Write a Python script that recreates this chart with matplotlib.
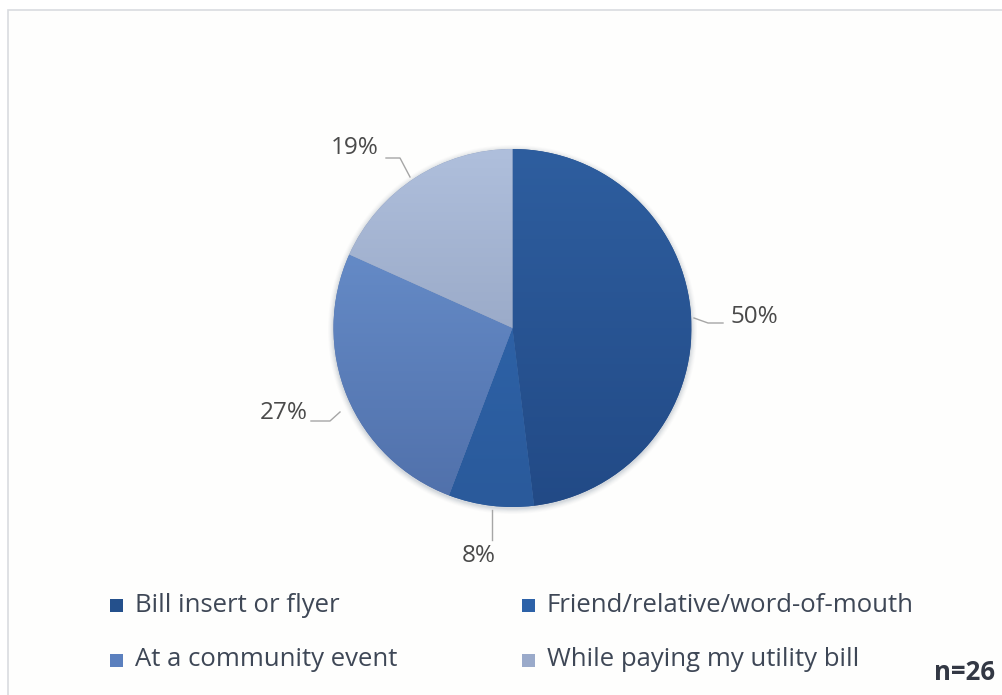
import numpy as np
import matplotlib
matplotlib.use("Agg")
import matplotlib.pyplot as plt
import matplotlib.colors as mcolors
import matplotlib.patches as mpatches

# survey responses: how people heard about the program
sources = ["Bill insert or flyer", "Friend/relative/word-of-mouth",
           "At a community event", "While paying my utility bill"]
shares = [50, 8, 27, 19]
n_resp = 26

# gradient (top, bottom) colour per slice
grad_top = ["#2E5E9F", "#3169B1", "#6D95D2", "#AFBFDC"]
grad_bot = ["#224A86", "#2A5A9B", "#5070AA", "#8797B6"]
legend_cols = ["#24508C", "#2D62A8", "#5B80BE", "#9AAACA"]

W, H = 1002, 695
fig = plt.figure(figsize=(W / 100, H / 100), dpi=100)
ax = fig.add_axes([0, 0, 1, 1])

def Y(y):  # pixel row -> data y
    return H - y

FONT = "Open Sans"
TXT = "#4A4A4A"

cx, cy, r = 512.5, Y(328), 179

wedges, _ = ax.pie(shares, center=(cx, cy), radius=r, startangle=90,
                   counterclock=False, colors=grad_bot,
                   wedgeprops=dict(linewidth=0), frame=True)
ax.set_xlim(0, W)
ax.set_ylim(0, H)
ax.set_aspect("auto")
ax.axis("off")

# chart area frame
ax.add_patch(mpatches.Rectangle((8, Y(H + 5)), W + 10, H - 5, fill=True,
                                facecolor="#FEFEFD", edgecolor="#D9DCE0", lw=1.2,
                                zorder=0))

# soft shadow around the pie
for k, a in zip(range(7, 0, -1), [0.02, 0.025, 0.03, 0.04, 0.05, 0.06, 0.08]):
    ax.add_patch(mpatches.Circle((cx, cy - 1.5), r + k * 0.8, color="#6C7A90",
                                 alpha=a, lw=0, zorder=1))

# vertical gradient fill clipped to each wedge
t = np.linspace(0, 1, 256)[:, None]
for w, c0, c1 in zip(wedges, grad_top, grad_bot):
    a0 = np.array(mcolors.to_rgb(c0))
    a1 = np.array(mcolors.to_rgb(c1))
    img = (a0 * (1 - t) + a1 * t)[:, None, :].repeat(2, axis=1)
    im = ax.imshow(img, extent=(cx - r, cx + r, cy - r, cy + r),
                   origin="upper", aspect="auto", zorder=3, interpolation="bilinear")
    im.set_clip_path(w)
    w.set_zorder(2)

# data labels with leader lines
lbl = [f"{v}%" for v in shares]
leaders = [
    [(694, 318), (708, 323), (723, 323)],
    [(492, 510), (492, 540)],
    [(340, 412), (330, 421), (311, 421)],
    [(410, 177), (400, 158), (386, 158)],
]
label_pos = [(754, 317), (479, 556), (284, 413), (355, 148)]
for pts, (lx, ly), s in zip(leaders, label_pos, lbl):
    xs = [p[0] for p in pts]
    ys = [Y(p[1]) for p in pts]
    ax.plot(xs, ys, color="#A6A6A6", lw=1.0, zorder=4)
    ax.text(lx, Y(ly), s, fontsize=17.5, family=FONT, color=TXT,
            ha="center", va="center", zorder=5)

# legend, two columns
leg_pos = [(110, 605), (522, 605), (110, 660), (522, 660)]
for (lx, ly), name, col in zip(leg_pos, sources, legend_cols):
    ax.add_patch(mpatches.Rectangle((lx, Y(ly) - 6.5), 13, 13, facecolor=col,
                                    edgecolor="none", zorder=4))
    ax.text(lx + 25, Y(ly), name, fontsize=18.5, family=FONT, color="#3E4756",
            ha="left", va="center", zorder=5)

ax.text(934, Y(673), f"n={n_resp}", fontsize=18.5, family=FONT,
        fontweight="bold", color="#333844", ha="left", va="center", zorder=5)

fig.savefig("out.png", dpi=100, facecolor="white")
